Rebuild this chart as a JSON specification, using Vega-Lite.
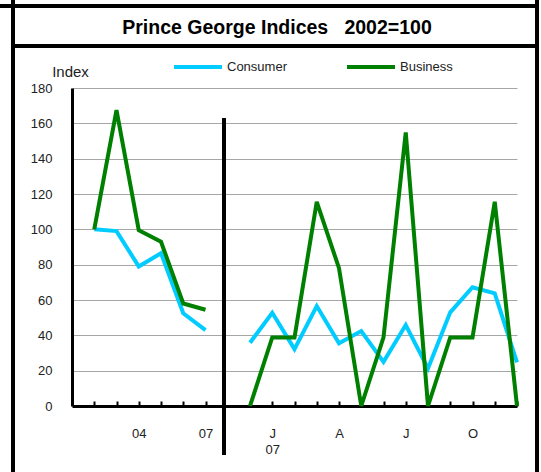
{
  "$schema": "https://vega.github.io/schema/vega-lite/v6.json",
  "width": 445,
  "height": 318,
  "autosize": {"type": "none"},
  "padding": {"left": 72, "top": 88, "right": 24, "bottom": 66},
  "background": "white",
  "config": {
    "view": {"stroke": null},
    "font": "Liberation Sans"
  },
  "title": {
    "text": "Prince George Indices\u00a0\u00a0\u00a02002=100",
    "fontSize": 19.5,
    "fontWeight": "bold",
    "color": "#000000",
    "anchor": "middle",
    "baseline": "alphabetic",
    "dx": -17.5,
    "dy": 55,
    "offset": 0
  },
  "data": {
    "values": [
      {"series": "Consumer", "seg": "A", "i": 0, "v": 100},
      {"series": "Consumer", "seg": "A", "i": 1, "v": 99},
      {"series": "Consumer", "seg": "A", "i": 2, "v": 79},
      {"series": "Consumer", "seg": "A", "i": 3, "v": 86.5},
      {"series": "Consumer", "seg": "A", "i": 4, "v": 52.5},
      {"series": "Consumer", "seg": "A", "i": 5, "v": 43},
      {"series": "Consumer", "seg": "B", "i": 7, "v": 35.8},
      {"series": "Consumer", "seg": "B", "i": 8, "v": 52.8},
      {"series": "Consumer", "seg": "B", "i": 9, "v": 32.2},
      {"series": "Consumer", "seg": "B", "i": 10, "v": 56.6},
      {"series": "Consumer", "seg": "B", "i": 11, "v": 35.5},
      {"series": "Consumer", "seg": "B", "i": 12, "v": 42.4},
      {"series": "Consumer", "seg": "B", "i": 13, "v": 25},
      {"series": "Consumer", "seg": "B", "i": 14, "v": 45.8},
      {"series": "Consumer", "seg": "B", "i": 15, "v": 21.3},
      {"series": "Consumer", "seg": "B", "i": 16, "v": 53},
      {"series": "Consumer", "seg": "B", "i": 17, "v": 67.2},
      {"series": "Consumer", "seg": "B", "i": 18, "v": 63.8},
      {"series": "Consumer", "seg": "B", "i": 19, "v": 24.7},
      {"series": "Business", "seg": "A", "i": 0, "v": 100},
      {"series": "Business", "seg": "A", "i": 1, "v": 167.5},
      {"series": "Business", "seg": "A", "i": 2, "v": 99.5},
      {"series": "Business", "seg": "A", "i": 3, "v": 93},
      {"series": "Business", "seg": "A", "i": 4, "v": 58},
      {"series": "Business", "seg": "A", "i": 5, "v": 54.5},
      {"series": "Business", "seg": "B", "i": 7, "v": 0},
      {"series": "Business", "seg": "B", "i": 8, "v": 38.8},
      {"series": "Business", "seg": "B", "i": 9, "v": 38.8},
      {"series": "Business", "seg": "B", "i": 10, "v": 115.6},
      {"series": "Business", "seg": "B", "i": 11, "v": 78},
      {"series": "Business", "seg": "B", "i": 12, "v": 0},
      {"series": "Business", "seg": "B", "i": 13, "v": 38.8},
      {"series": "Business", "seg": "B", "i": 14, "v": 154.9},
      {"series": "Business", "seg": "B", "i": 15, "v": 0},
      {"series": "Business", "seg": "B", "i": 16, "v": 38.8},
      {"series": "Business", "seg": "B", "i": 17, "v": 38.8},
      {"series": "Business", "seg": "B", "i": 18, "v": 115.6},
      {"series": "Business", "seg": "B", "i": 19, "v": 0}
    ]
  },
  "encoding": {
    "x": {
      "field": "i",
      "type": "quantitative",
      "scale": {"domain": [-1, 19], "nice": false, "zero": false},
      "axis": {
        "title": null,
        "values": [0, 1, 2, 3, 4, 5, 7, 8, 9, 10, 11, 12, 13, 14, 15, 16, 17, 18, 19],
        "labelExpr": "datum.value == 2 ? '04' : datum.value == 5 ? '07' : datum.value == 8 ? ['J', '07'] : datum.value == 11 ? 'A' : datum.value == 14 ? 'J' : datum.value == 17 ? 'O' : ''",
        "labelOverlap": false,
        "labelFontSize": 13,
        "labelColor": "#222222",
        "labelLineHeight": 16.5,
        "labelPadding": 26,
        "tickSize": -5,
        "tickWidth": 2,
        "tickColor": "#000000",
        "domainColor": "#000000",
        "domainWidth": 3,
        "grid": false
      }
    },
    "y": {
      "field": "v",
      "type": "quantitative",
      "scale": {"domain": [0, 180], "nice": false},
      "axis": {
        "title": "Index",
        "titleAngle": 0,
        "titleX": -2,
        "titleY": -17,
        "titleAlign": "center",
        "titleBaseline": "middle",
        "titleFontSize": 15,
        "titleFontWeight": "normal",
        "titleColor": "#222222",
        "values": [0, 20, 40, 60, 80, 100, 120, 140, 160, 180],
        "labelFontSize": 13,
        "labelColor": "#222222",
        "labelPadding": 20,
        "ticks": false,
        "domainColor": "#000000",
        "domainWidth": 3,
        "grid": true,
        "gridColor": "#a6a6a6",
        "gridWidth": 1
      }
    }
  },
  "layer": [
    {
      "mark": {"type": "line", "strokeWidth": 4},
      "encoding": {
        "color": {
          "field": "series",
          "type": "nominal",
          "scale": {"domain": ["Consumer", "Business"], "range": ["#00CCFF", "#008000"]},
          "legend": {
            "title": null,
            "orient": "none",
            "legendX": 100,
            "legendY": -47,
            "direction": "horizontal",
            "symbolType": "stroke",
            "symbolSize": 2304,
            "symbolStrokeWidth": 4,
            "labelFontSize": 13,
            "labelColor": "#222222",
            "labelOffset": 3,
            "columnPadding": 52
          }
        },
        "detail": {"field": "seg"}
      }
    },
    {
      "mark": {"type": "rule", "color": "#000000", "strokeWidth": 3},
      "encoding": {"x": {"datum": 5.83}, "y": {"datum": 163}, "y2": {"datum": -27.7}}
    },
    {
      "mark": {"type": "rule", "color": "#000000", "strokeWidth": 2.5},
      "encoding": {"x": {"datum": -3.65}, "y": {"datum": 229.8}, "y2": {"datum": -37.4}}
    },
    {
      "mark": {"type": "rule", "color": "#000000", "strokeWidth": 2.5},
      "encoding": {"x": {"datum": 19.9}, "y": {"datum": 229.8}, "y2": {"datum": -37.4}}
    },
    {
      "mark": {"type": "rule", "color": "#000000", "strokeWidth": 3},
      "encoding": {"x": {"datum": -3.65}, "x2": {"datum": 19.9}, "y": {"datum": 203.8}}
    },
    {
      "mark": {"type": "rule", "color": "#000000", "strokeWidth": 2.5},
      "encoding": {"x": {"datum": -4.24}, "x2": {"datum": 19.9}, "y": {"datum": 226.4}}
    }
  ]
}
